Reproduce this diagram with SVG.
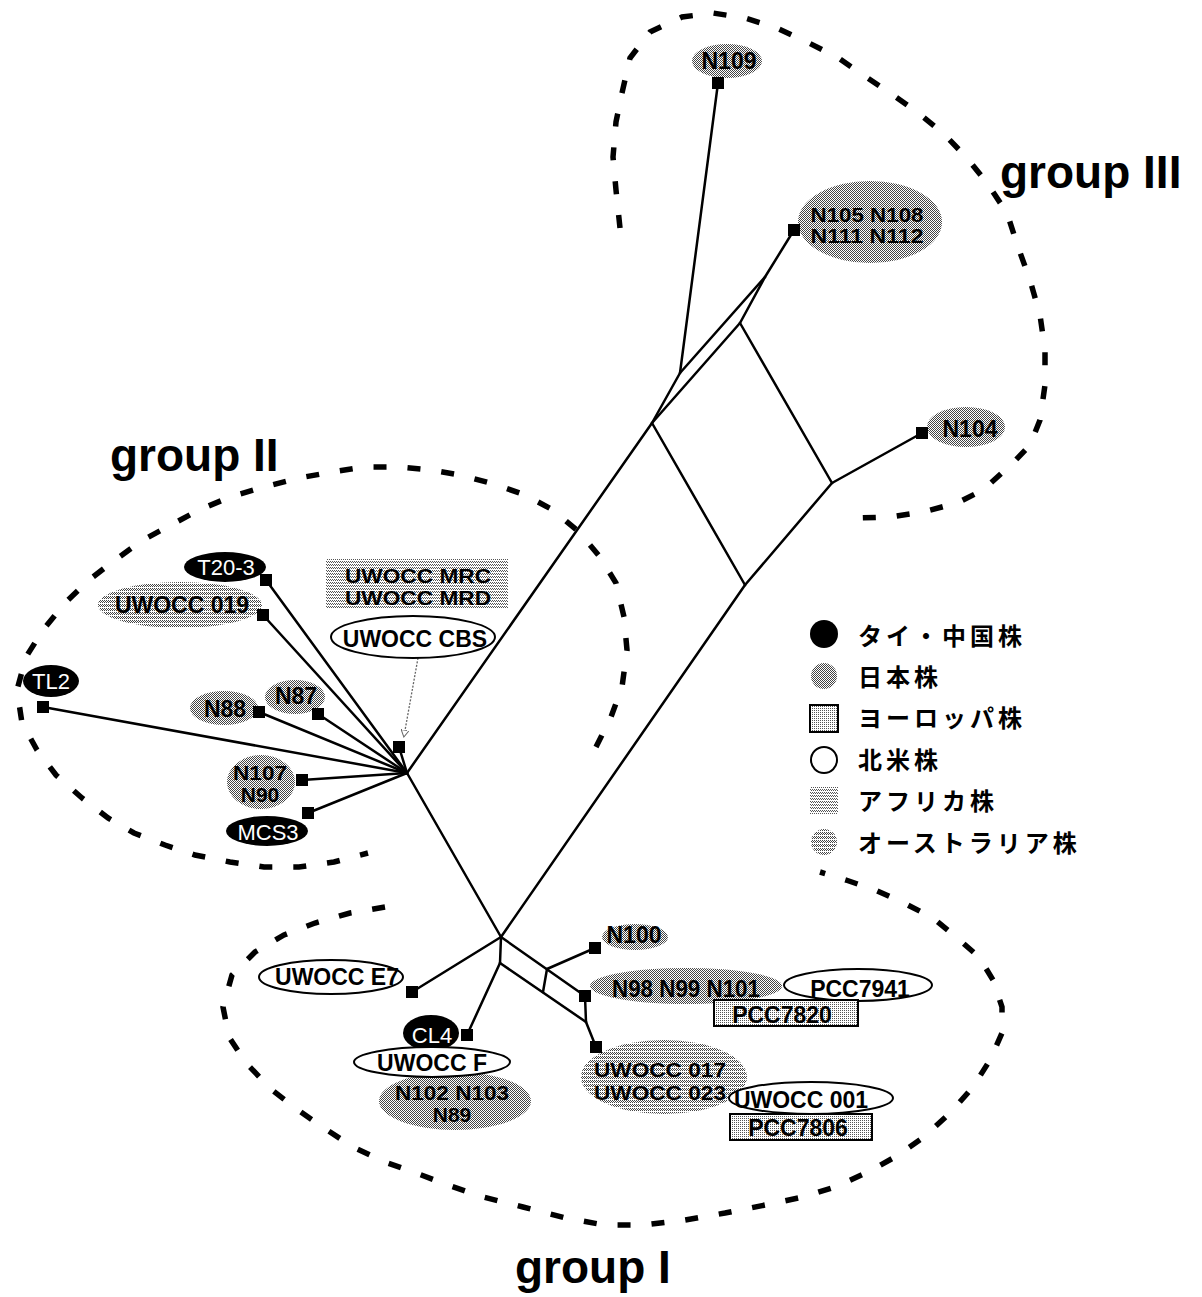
<svg xmlns="http://www.w3.org/2000/svg" width="1202" height="1297" viewBox="0 0 1202 1297">
<defs>
<pattern id="jp" width="2" height="2" patternUnits="userSpaceOnUse"><rect width="2" height="2" fill="#fff"/><rect width="1" height="1" fill="#444"/><rect x="1" y="1" width="1" height="1" fill="#444"/></pattern>
<pattern id="eu" width="2" height="2" patternUnits="userSpaceOnUse"><rect width="2" height="2" fill="#fff"/><rect width="1" height="1" fill="#555"/></pattern>
<pattern id="af" width="2" height="3" patternUnits="userSpaceOnUse"><rect width="2" height="3" fill="#fff"/><rect width="1" height="1" fill="#555"/><rect x="1" y="1" width="1" height="1" fill="#555"/></pattern>
<pattern id="au" width="2" height="4" patternUnits="userSpaceOnUse"><rect width="2" height="4" fill="#fff"/><rect width="1" height="1" fill="#444"/><rect x="1" y="1" width="1" height="1" fill="#444"/><rect y="2" width="1" height="1" fill="#444"/></pattern>
<marker id="openarrow" markerWidth="8" markerHeight="8" refX="6" refY="4" orient="auto" markerUnits="userSpaceOnUse"><path d="M0,0 L7,4 L0,8 Z" fill="#fff" stroke="#666" stroke-width="1"/></marker>
<style>
.e{stroke:#000;stroke-width:2.5;fill:none;stroke-linecap:round;stroke-linejoin:round}
.grp{stroke:#000;stroke-width:5.5;fill:none;stroke-dasharray:13 21}
.sq{fill:#000}
.t{font-family:"Liberation Sans",Arial,sans-serif;font-weight:bold;font-size:23px;text-anchor:middle;fill:#000}
.tw{font-family:"Liberation Sans",Arial,sans-serif;font-size:22px;text-anchor:middle;fill:#fff}
.t2{font-family:"Liberation Sans",Arial,sans-serif;font-weight:bold;font-size:21px;text-anchor:middle;fill:#000}
.t3{font-family:"Liberation Sans",Arial,sans-serif;font-weight:bold;font-size:20px;text-anchor:middle;fill:#000}
.g{font-family:"Liberation Sans",Arial,sans-serif;font-weight:bold;font-size:46px;fill:#000}
.lg{font-family:"Noto Sans CJK JP","Noto Sans CJK SC",sans-serif;font-weight:bold;font-size:24px;letter-spacing:4px;fill:#000}
.wh{fill:#fff;stroke:#000;stroke-width:2}
.bk{fill:#000}
.jpf{fill:url(#jp)}
.euf{fill:url(#eu);stroke:#000;stroke-width:2}
.aff{fill:url(#af)}
.auf{fill:url(#au)}
</style>
</defs>
<rect width="1202" height="1297" fill="#fff"/>

<g id="group-outlines">
<polyline class="grp" points="596,747 611,717 622,687 627,650 624,617 616,583 600,557 579,532 553,510 525,495 494,484 460,475 431,470 399,467 364,467 332,472 299,478 264,487 230,497 199,510 171,525 143,540 115,560 89,580 65,603 43,630 26,657 17,690 22,723 37,750 56,775 82,798 108,818 134,833 165,845 195,855 230,862 264,867 299,867 334,862 368,853"/>
<polyline class="grp" points="385,907 350,913 315,923 284,935 255,952 232,975 223,1007 229,1037 246,1063 272,1090 298,1110 324,1128 353,1147 385,1162 416,1173 448,1185 483,1197 523,1207 566,1218 604,1225 644,1225 685,1220 725,1213 765,1205 803,1197 835,1187 866,1173 895,1157 924,1137 950,1113 973,1087 990,1060 1002,1033 1002,1007 993,980 979,957 956,937 933,918 904,903 875,890 846,880 820,872"/>
<polyline class="grp" points="620,228 616,190 613,157 616,122 622,93 630,58 650,32 682,17 713,13 745,18 777,28 807,42 837,57 863,75 890,93 917,112 943,133 967,158 987,183 1007,213 1018,247 1030,280 1040,315 1045,350 1045,385 1040,420 1030,445 1013,463 983,490 957,503 923,512 890,517 858,518"/>
</g>

<g id="group-labels">
<text class="g" x="1000" y="188">group III</text>
<text class="g" x="110" y="471">group II</text>
<text class="g" x="515" y="1283">group I</text>
</g>

<g id="connectors">
<line class="e" x1="407" y1="773" x2="266" y2="580"/>
<line class="e" x1="407" y1="773" x2="263" y2="615"/>
<line class="e" x1="407" y1="773" x2="43" y2="707"/>
<line class="e" x1="407" y1="773" x2="259" y2="712"/>
<line class="e" x1="407" y1="773" x2="318" y2="714"/>
<line class="e" x1="407" y1="773" x2="399" y2="747"/>
<line class="e" x1="407" y1="773" x2="302" y2="780"/>
<line class="e" x1="407" y1="773" x2="308" y2="813"/>
<line class="e" x1="407" y1="773" x2="652" y2="423"/>
<line class="e" x1="407" y1="773" x2="501" y2="937"/>
<line class="e" x1="501" y1="937" x2="745" y2="585"/>
<line class="e" x1="652" y1="423" x2="740" y2="323"/>
<line class="e" x1="652" y1="423" x2="680" y2="373"/>
<line class="e" stroke-width="2" x1="680" y1="373" x2="718" y2="83"/>
<line class="e" x1="680" y1="373" x2="765" y2="277"/>
<line class="e" x1="740" y1="323" x2="765" y2="277"/>
<line class="e" x1="765" y1="277" x2="794" y2="230"/>
<line class="e" x1="652" y1="423" x2="745" y2="585"/>
<line class="e" x1="740" y1="323" x2="832" y2="483"/>
<line class="e" x1="745" y1="585" x2="832" y2="483"/>
<line class="e" x1="832" y1="483" x2="922" y2="433"/>
<line class="e" x1="501" y1="937" x2="412" y2="992"/>
<line class="e" x1="501" y1="937" x2="500" y2="963"/>
<line class="e" x1="500" y1="963" x2="467" y2="1035"/>
<line class="e" x1="501" y1="937" x2="585" y2="996"/>
<line class="e" x1="547" y1="969" x2="595" y2="948"/>
<line class="e" x1="500" y1="963" x2="586" y2="1022"/>
<line class="e" x1="547" y1="969" x2="543" y2="992"/>
<line class="e" x1="585" y1="996" x2="586" y2="1022"/>
<line class="e" x1="586" y1="1022" x2="596" y2="1047"/>
<line x1="418" y1="658" x2="404" y2="736" stroke="#666" stroke-width="1.3" stroke-dasharray="2 1.5" marker-end="url(#openarrow)"/>
</g>

<g id="n-T20-3"><ellipse class="bk" cx="225" cy="567" rx="41" ry="15"/><text class="tw" x="226" y="575">T20-3</text><rect class="sq" x="260" y="574" width="12" height="12"/></g>
<g id="n-UWOCC019"><ellipse class="auf" cx="180" cy="605" rx="82" ry="23"/><text class="t" x="182" y="613">UWOCC 019</text><rect class="sq" x="257" y="609" width="12" height="12"/></g>
<g id="n-TL2"><ellipse class="bk" cx="51" cy="681" rx="28" ry="16"/><text class="tw" x="51" y="689">TL2</text><rect class="sq" x="37" y="701" width="12" height="12"/></g>
<g id="n-N88"><ellipse class="jpf" cx="224" cy="708" rx="34" ry="17"/><text class="t" x="225" y="717">N88</text><rect class="sq" x="253" y="706" width="12" height="12"/></g>
<g id="n-N87"><ellipse class="jpf" cx="295" cy="697" rx="30" ry="17"/><text class="t" x="296" y="704">N87</text><rect class="sq" x="312" y="708" width="12" height="12"/></g>
<g id="n-N107-N90"><ellipse class="jpf" cx="261" cy="782" rx="34" ry="27"/><text class="t2" x="260" y="780" textLength="54" lengthAdjust="spacingAndGlyphs">N107</text><text class="t2" x="260" y="802">N90</text><rect class="sq" x="296" y="774" width="12" height="12"/></g>
<g id="n-MCS3"><ellipse class="bk" cx="267" cy="831" rx="41" ry="15"/><text class="tw" x="268" y="840">MCS3</text><rect class="sq" x="302" y="807" width="12" height="12"/></g>
<g id="n-MRC-MRD"><rect class="aff" x="326" y="559" width="182" height="49"/><text class="t3" x="418" y="583" textLength="146" lengthAdjust="spacingAndGlyphs">UWOCC MRC</text><text class="t3" x="418" y="605" textLength="146" lengthAdjust="spacingAndGlyphs">UWOCC MRD</text></g>
<g id="n-CBS"><ellipse class="wh" cx="413" cy="637" rx="82" ry="21"/><text class="t" x="415" y="647">UWOCC CBS</text><rect class="sq" x="393" y="741" width="12" height="12"/></g>

<g id="n-N109"><ellipse class="jpf" cx="727" cy="61" rx="35" ry="17"/><text class="t" x="729" y="69">N109</text><rect class="sq" x="712" y="77" width="12" height="12"/></g>
<g id="n-N105"><ellipse class="jpf" cx="870" cy="222" rx="72" ry="41"/><text class="t2" x="867" y="222" textLength="113" lengthAdjust="spacingAndGlyphs">N105 N108</text><text class="t2" x="867" y="243" textLength="113" lengthAdjust="spacingAndGlyphs">N111 N112</text><rect class="sq" x="788" y="224" width="12" height="12"/></g>
<g id="n-N104"><ellipse class="jpf" cx="966" cy="427" rx="39" ry="20"/><text class="t" x="970" y="437">N104</text><rect class="sq" x="916" y="427" width="12" height="12"/></g>

<g id="n-E7"><ellipse class="wh" cx="331" cy="977" rx="72" ry="17"/><text class="t" x="337" y="985">UWOCC E7</text><rect class="sq" x="406" y="986" width="12" height="12"/></g>
<g id="n-N102"><ellipse class="jpf" cx="455" cy="1101" rx="76" ry="29"/><text class="t2" x="452" y="1100" textLength="114" lengthAdjust="spacingAndGlyphs">N102 N103</text><text class="t2" x="452" y="1122">N89</text></g>
<g id="n-CL4"><ellipse class="bk" cx="431" cy="1033" rx="28" ry="18"/><text class="tw" x="432" y="1043">CL4</text><rect class="sq" x="461" y="1029" width="12" height="12"/></g>
<g id="n-UWOCCF"><ellipse class="wh" cx="432" cy="1062" rx="78" ry="15"/><text class="t" x="432" y="1071">UWOCC F</text></g>
<g id="n-N100"><ellipse class="jpf" cx="635" cy="937" rx="33" ry="13"/><text class="t" x="634" y="943">N100</text><rect class="sq" x="589" y="942" width="12" height="12"/></g>
<g id="n-N98"><ellipse class="jpf" cx="686" cy="986" rx="96" ry="18"/><text class="t" x="686" y="997" textLength="148" lengthAdjust="spacingAndGlyphs">N98 N99 N101</text><rect class="sq" x="579" y="990" width="12" height="12"/></g>
<g id="n-PCC7941"><ellipse class="wh" cx="858" cy="985" rx="74" ry="16"/><text class="t" x="860" y="997">PCC7941</text></g>
<g id="n-PCC7820"><rect class="euf" x="714" y="1000" width="144" height="26"/><text class="t" x="782" y="1023">PCC7820</text></g>
<g id="n-UWOCC017"><ellipse class="auf" cx="664" cy="1077" rx="83" ry="37"/><text class="t2" x="660" y="1077" textLength="132" lengthAdjust="spacingAndGlyphs">UWOCC 017</text><text class="t2" x="660" y="1100" textLength="132" lengthAdjust="spacingAndGlyphs">UWOCC 023</text><rect class="sq" x="590" y="1041" width="12" height="12"/></g>
<g id="n-UWOCC001"><ellipse class="wh" cx="811" cy="1098" rx="82" ry="16"/><text class="t" x="801" y="1108">UWOCC 001</text></g>
<g id="n-PCC7806"><rect class="euf" x="730" y="1114" width="142" height="26"/><text class="t" x="798" y="1136">PCC7806</text></g>

<g id="legend">
<circle cx="824" cy="634" r="14" fill="#000"/><text class="lg" x="858" y="645">タイ・中国株</text>
<circle cx="824" cy="676" r="13" class="jpf"/><text class="lg" x="858" y="686">日本株</text>
<rect x="810" y="705" width="28" height="27" class="euf"/><text class="lg" x="858" y="727">ヨーロッパ株</text>
<circle cx="824" cy="760" r="13" class="wh"/><text class="lg" x="858" y="769">北米株</text>
<rect x="810" y="787" width="28" height="27" class="aff"/><text class="lg" x="858" y="810">アフリカ株</text>
<circle cx="824" cy="842" r="13" class="auf"/><text class="lg" x="858" y="852">オーストラリア株</text>
</g>
</svg>
